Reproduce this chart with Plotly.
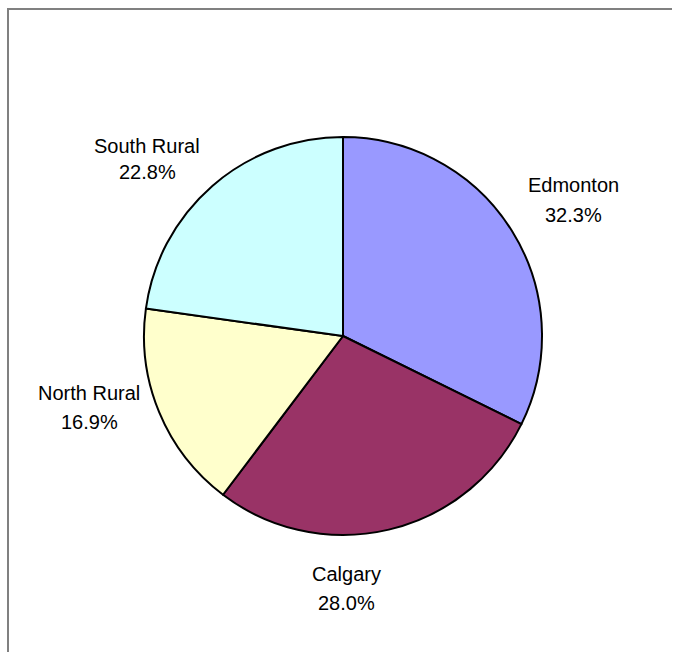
import plotly.graph_objects as go

# Regional shares
regions = ["Edmonton", "Calgary", "North Rural", "South Rural"]
shares = [32.3, 28.0, 16.9, 22.8]
colors = ["#9999FF", "#993366", "#FFFFCC", "#CCFFFF"]

W, H = 674, 652

# Pie placement (pixels): center and radius
cx, cy, r = 343, 336, 199

fig = go.Figure()

# Empty cartesian trace so the axis lines can serve as the chart-area frame
fig.add_trace(go.Scatter(x=[], y=[], showlegend=False, hoverinfo="skip"))

fig.add_trace(
    go.Pie(
        labels=regions,
        values=shares,
        sort=False,
        direction="clockwise",
        rotation=0,
        marker=dict(colors=colors, line=dict(color="black", width=2)),
        textinfo="none",
        hoverinfo="label+percent",
        showlegend=False,
        domain=dict(
            x=[(cx - r) / W, (cx + r) / W],
            y=[(H - cy - r) / H, (H - cy + r) / H],
        ),
    )
)

# Outside label positions (pixels): x centre, name line y, value line y
label_pos = {
    "Edmonton": (573, 183, 213),
    "Calgary": (347, 572, 601),
    "North Rural": (89, 391, 420),
    "South Rural": (147, 144, 170),
}

label_font = dict(family="Liberation Sans, Arial", size=20, color="black")

for name, val in zip(regions, shares):
    x, y1, y2 = label_pos[name]
    for text, y in ((name, y1), (f"{val:.1f}%", y2)):
        fig.add_annotation(
            x=x / W, y=1 - (y + 2) / H, xref="paper", yref="paper",
            text=text, showarrow=False, align="center",
            xanchor="center", yanchor="middle",
            font=label_font,
        )

axis_common = dict(
    showline=True, linecolor="#808080", linewidth=2,
    showgrid=False, zeroline=False, showticklabels=False, ticks="",
    fixedrange=True,
)

fig.update_layout(
    width=W, height=H,
    margin=dict(l=0, r=0, t=0, b=0),
    paper_bgcolor="white",
    plot_bgcolor="rgba(0,0,0,0)",
    xaxis=dict(domain=[9 / W, 672 / W], side="top", **axis_common),
    yaxis=dict(domain=[0, 1 - 10 / H], side="left", **axis_common),
)

fig.write_html("out.html", config={"displayModeBar": False})
